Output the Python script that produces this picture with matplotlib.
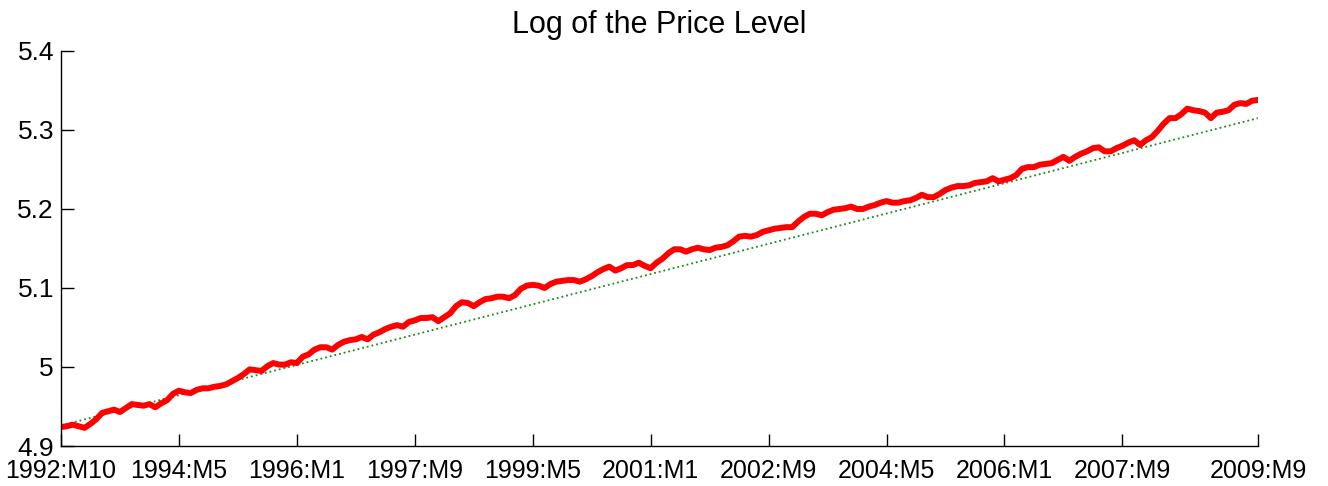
import numpy as np
import matplotlib
matplotlib.use("Agg")
import matplotlib.pyplot as plt

plt.rcParams["font.family"] = ["Liberation Sans", "DejaVu Sans"]

# monthly log price level, 1992:M10 .. 2009:M9 (204 months)
log_price = [
    4.924, 4.925, 4.927, 4.925, 4.923, 4.928, 4.934, 4.942, 4.944, 4.946,
    4.943, 4.948, 4.953, 4.952, 4.951, 4.953, 4.949, 4.954, 4.958, 4.966,
    4.970, 4.968, 4.967, 4.971, 4.973, 4.973, 4.975, 4.976, 4.978, 4.982,
    4.986, 4.991, 4.997, 4.996, 4.995, 5.001, 5.005, 5.003, 5.003, 5.006,
    5.005, 5.013, 5.016, 5.022, 5.025, 5.025, 5.022, 5.028, 5.032, 5.034,
    5.035, 5.038, 5.035, 5.041, 5.044, 5.048, 5.051, 5.053, 5.051, 5.057,
    5.059, 5.062, 5.062, 5.063, 5.058, 5.063, 5.068, 5.077, 5.082, 5.081,
    5.077, 5.082, 5.086, 5.087, 5.089, 5.089, 5.087, 5.091, 5.099, 5.103,
    5.104, 5.103, 5.100, 5.105, 5.108, 5.109, 5.110, 5.110, 5.108, 5.111,
    5.115, 5.120, 5.124, 5.127, 5.122, 5.125, 5.129, 5.129, 5.132, 5.128,
    5.125, 5.132, 5.137, 5.144, 5.149, 5.149, 5.146, 5.149, 5.151, 5.149,
    5.148, 5.151, 5.152, 5.154, 5.159, 5.165, 5.166, 5.165, 5.167, 5.171,
    5.173, 5.175, 5.176, 5.177, 5.177, 5.184, 5.190, 5.194, 5.194, 5.192,
    5.196, 5.199, 5.200, 5.201, 5.203, 5.200, 5.200, 5.203, 5.205, 5.208,
    5.210, 5.208, 5.208, 5.210, 5.211, 5.214, 5.218, 5.215, 5.215, 5.219,
    5.224, 5.227, 5.229, 5.229, 5.230, 5.233, 5.234, 5.235, 5.239, 5.235,
    5.237, 5.239, 5.243, 5.251, 5.253, 5.253, 5.256, 5.257, 5.258, 5.262,
    5.266, 5.261, 5.266, 5.270, 5.273, 5.277, 5.278, 5.273, 5.273, 5.277,
    5.280, 5.284, 5.287, 5.281, 5.287, 5.291, 5.299, 5.308, 5.315, 5.315,
    5.320, 5.327, 5.325, 5.324, 5.322, 5.315, 5.322, 5.323, 5.325, 5.332,
    5.334, 5.333, 5.337, 5.338,
]
# linear trend, first and last month
trend_ends = [4.926, 5.315]

tick_months = [0, 20, 40, 60, 80, 100, 120, 140, 160, 180, 203]
tick_labels = ["1992:M10", "1994:M5", "1996:M1", "1997:M9", "1999:M5", "2001:M1",
               "2002:M9", "2004:M5", "2006:M1", "2007:M9", "2009:M9"]
y_ticks = [4.9, 5.0, 5.1, 5.2, 5.3, 5.4]
y_labels = ["4.9", "5", "5.1", "5.2", "5.3", "5.4"]

n = len(log_price)
t = np.arange(n)

fig = plt.figure(figsize=(13.28, 4.86), dpi=100)
ax = fig.add_axes([0.0459, 0.0823, 0.9014, 0.8128])

ax.plot([0, n - 1], trend_ends, color="#1a8a1a", linestyle=":", linewidth=1.3)
ax.plot(t, log_price, color="red", linewidth=4.3, solid_joinstyle="round")

ax.set_xlim(0, n - 1)
ax.set_ylim(4.9, 5.4)
ax.set_xticks(tick_months)
ax.set_xticklabels(tick_labels)
ax.set_yticks(y_ticks)
ax.set_yticklabels(y_labels)
ax.tick_params(direction="in", length=9, width=1)
ax.tick_params(axis="x", labelsize=18, pad=9)
ax.tick_params(axis="y", labelsize=19, pad=5)
for s in ["top", "right"]:
    ax.spines[s].set_visible(False)
for s in ["left", "bottom"]:
    ax.spines[s].set_linewidth(1)
ax.set_title("Log of the Price Level", fontsize=22, pad=13)

fig.savefig("out.png", dpi=100)
plt.close()
